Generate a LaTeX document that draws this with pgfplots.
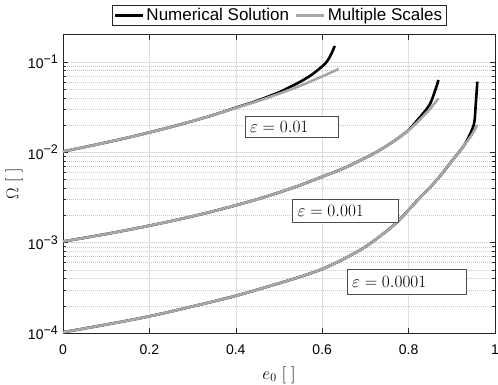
\documentclass[border=0pt]{standalone}
\usepackage{pgfplots}
\pgfplotsset{compat=1.18}
\usepackage{fontspec}
\setsansfont{Liberation Sans}
\definecolor{msgray}{RGB}{166,166,166}
\newcommand{\dec}[1]{10\raisebox{5.5pt}{\fontsize{12.5}{13}\selectfont −#1}}
\begin{document}
\begin{tikzpicture}
\useasboundingbox (-63pt,-51pt) rectangle (435pt,333pt);
\begin{axis}[
  at={(0pt,0pt)}, anchor=south west,
  scale only axis, width=432pt, height=298.4pt,
  xmin=0, xmax=1, ymin=1e-4, ymax=0.2, ymode=log,
  xtick={0,0.2,0.4,0.6,0.8,1}, xticklabels={0,0.2,0.4,0.6,0.8,1},
  ytick={1e-4,1e-3,1e-2,1e-1},
  minor ytick={2e-4,3e-4,4e-4,5e-4,6e-4,7e-4,8e-4,9e-4,
               2e-3,3e-3,4e-3,5e-3,6e-3,7e-3,8e-3,9e-3,
               2e-2,3e-2,4e-2,5e-2,6e-2,7e-2,8e-2,9e-2},
  yticklabels={\dec{4},\dec{3},\dec{2},\dec{1}},
  grid=both,
  major grid style={black!13, line width=0.5pt},
  minor grid style={black!22, line width=0.45pt, dash pattern=on 0.5pt off 1.5pt},
  axis line style={black!85, line width=0.6pt},
  tick style={black!85, line width=0.5pt},
  major tick length=5pt, minor tick length=3pt,
  tick label style={font=\sffamily\fontsize{14}{16}\selectfont},
  yticklabel style={font=\sffamily\fontsize{14}{16}\selectfont, inner sep=0pt, xshift=-5pt},
  xticklabel style={inner sep=0pt, yshift=-12pt},
  xlabel={$e_0\ [\ ]$}, ylabel={$\Omega\ [\ ]$},
  label style={font=\fontsize{17}{20}\selectfont, inner sep=0pt},
  xlabel style={at={([yshift=-33pt]axis description cs:0.5,0)}, anchor=north},
  ylabel style={at={([xshift=-40pt]axis description cs:0,0.5)}, anchor=south},
  legend columns=2,
  legend style={at={(0.5,1)}, anchor=south, yshift=9pt, draw=black!85, fill=white,
    font=\sffamily\fontsize{17}{19}\selectfont, inner xsep=2pt, inner ysep=1pt,
    /tikz/every even column/.append style={column sep=4pt}},
  legend image code/.code={\draw[#1] (0pt,0pt) -- (28pt,0pt);},
  legend entries={Numerical Solution, Multiple Scales},
]
% Numerical solution (black)
\addplot[black, line width=2.6pt, smooth, tension=0.5] coordinates {
(0,0.0102) (0.05,0.0114) (0.1,0.01282) (0.15,0.01451) (0.2,0.01655) (0.25,0.01904)
(0.3,0.02212) (0.35,0.02598) (0.4,0.0311) (0.45,0.0372) (0.5,0.0460) (0.525,0.0525) (0.55,0.0605)
(0.575,0.0715) (0.6,0.0890) (0.61,0.0995) (0.617,0.112) (0.623,0.128) (0.629,0.1496)};
\addplot[black, line width=2.6pt, smooth, tension=0.5, forget plot] coordinates {
(0,0.00103) (0.05,0.00113) (0.1,0.001245) (0.15,0.00138) (0.2,0.001539) (0.25,0.001729)
(0.3,0.001957) (0.35,0.002237) (0.4,0.002583) (0.45,0.003021) (0.5,0.003587) (0.55,0.004335)
(0.6,0.00536) (0.65,0.00665) (0.7,0.00868) (0.725,0.0100) (0.75,0.01182) (0.775,0.0142) (0.8,0.0176) (0.82,0.0225)
(0.84,0.0293) (0.85,0.0345) (0.855,0.0394) (0.86,0.046) (0.865,0.054) (0.869,0.063)};
\addplot[black, line width=2.6pt, smooth, tension=0.5, forget plot] coordinates {
(0,0.000102) (0.1,0.000124) (0.2,0.000153) (0.3,0.000197) (0.4,0.000258) (0.5,0.000355)
(0.55,0.00042) (0.6,0.00051) (0.65,0.00066) (0.7,0.0009) (0.75,0.00135) (0.775,0.00172) (0.8,0.0023) (0.825,0.0031)
(0.85,0.0041) (0.875,0.0056) (0.9,0.0080) (0.915,0.0098) (0.93,0.0122) (0.94,0.0150) (0.944,0.0165) (0.95,0.0195)
(0.953,0.0230) (0.9556,0.0348) (0.958,0.050) (0.959,0.0603)};
% Multiple scales (gray)
\addplot[msgray, line width=2.6pt, smooth, tension=0.5] coordinates {
(0,0.0102) (0.05,0.0114) (0.1,0.01282) (0.15,0.01451) (0.2,0.01655) (0.25,0.01904)
(0.3,0.02212) (0.35,0.02598) (0.4,0.0309) (0.45,0.03666) (0.5,0.04434) (0.55,0.05456)
(0.6,0.06892) (0.62,0.0760) (0.638,0.0832)};
\addplot[msgray, line width=2.6pt, smooth, tension=0.5, forget plot] coordinates {
(0,0.00103) (0.05,0.00113) (0.1,0.001245) (0.15,0.00138) (0.2,0.001539) (0.25,0.001729)
(0.3,0.001957) (0.35,0.002237) (0.4,0.002583) (0.45,0.003021) (0.5,0.003587) (0.55,0.004335)
(0.6,0.00536) (0.65,0.00665) (0.7,0.00868) (0.725,0.0100) (0.75,0.01182) (0.775,0.0142) (0.8,0.0175) (0.82,0.02143)
(0.84,0.0269) (0.85,0.0302) (0.86,0.0348) (0.869,0.0392)};
\addplot[msgray, line width=2.6pt, smooth, tension=0.5, forget plot] coordinates {
(0,0.000102) (0.1,0.000124) (0.2,0.000153) (0.3,0.000197) (0.4,0.000258) (0.5,0.000355)
(0.55,0.00042) (0.6,0.00051) (0.65,0.00066) (0.7,0.0009) (0.75,0.00135) (0.775,0.00172) (0.8,0.0023) (0.825,0.0031)
(0.85,0.0041) (0.875,0.0056) (0.9,0.0080) (0.915,0.0098) (0.93,0.0122) (0.945,0.0152) (0.959,0.0200)};
\node[draw=black!70, line width=0.6pt, fill=white, anchor=north west, inner xsep=5pt, inner ysep=0pt,
  text width=83pt, align=left, minimum height=21pt, font=\fontsize{17}{20}\selectfont]
  at (axis cs:0.4206,0.0251) {$\varepsilon = 0.01$};
\node[draw=black!70, line width=0.6pt, fill=white, anchor=north west, inner xsep=5pt, inner ysep=0pt,
  text width=96pt, align=left, minimum height=23pt, font=\fontsize{17}{20}\selectfont]
  at (axis cs:0.5307,0.00301) {$\varepsilon = 0.001$};
\node[draw=black!70, line width=0.6pt, fill=white, anchor=north west, inner xsep=5pt, inner ysep=0pt,
  text width=109pt, align=left, minimum height=25pt, font=\fontsize{17}{20}\selectfont]
  at (axis cs:0.6568,0.000507) {$\varepsilon = 0.0001$};
\end{axis}
\end{tikzpicture}
\end{document}
